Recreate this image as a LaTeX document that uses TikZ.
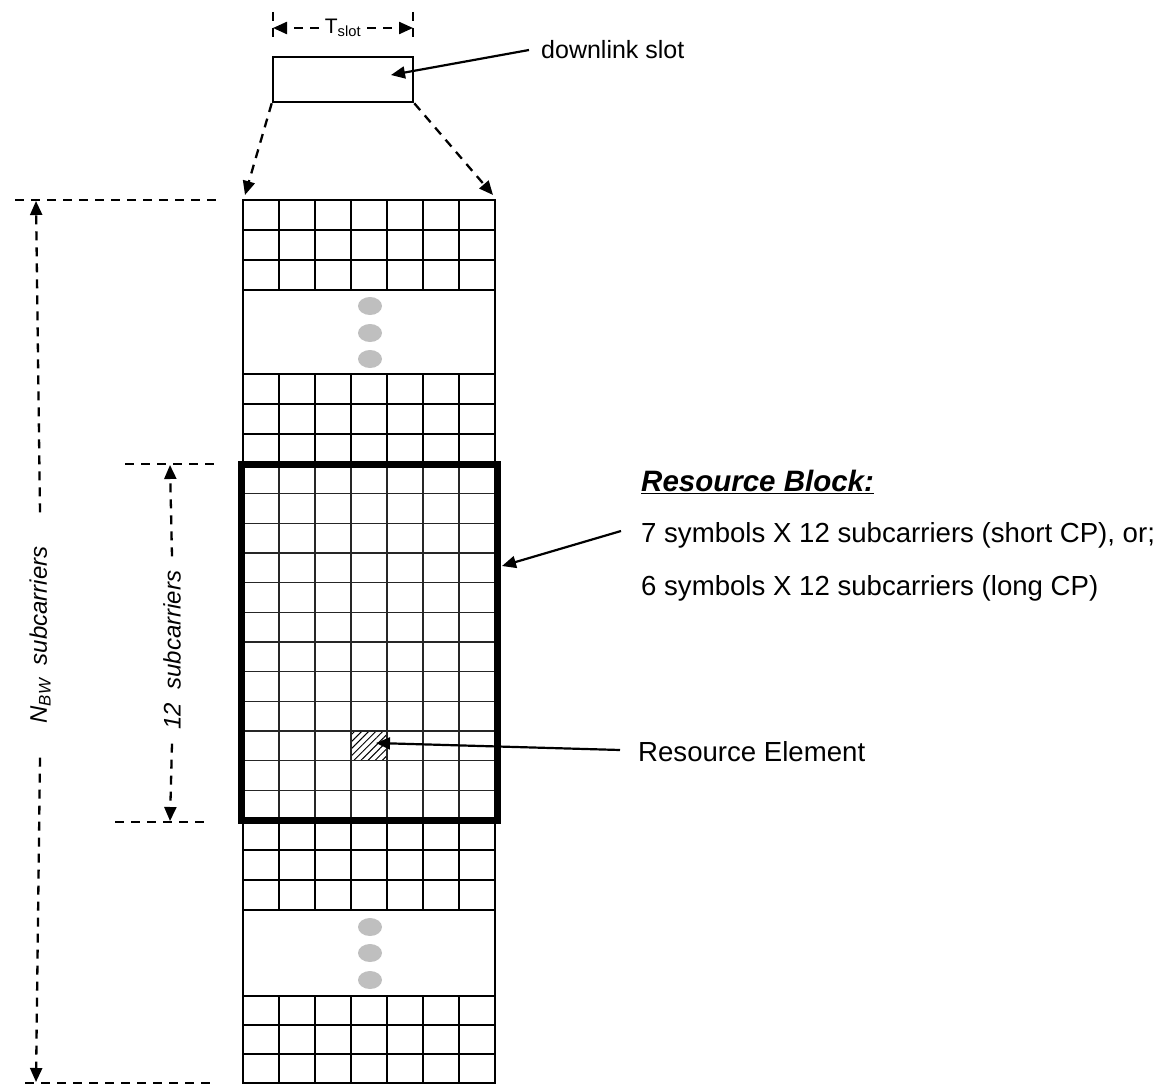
\documentclass[tikz,border=0pt]{standalone}
\usepackage{fontspec}
\setmainfont{Liberation Sans}
\usetikzlibrary{arrows.meta,patterns.meta,positioning}

\tikzset{
  cellgrid/.style={line width=2.8pt},
  rbgrid/.style={line width=1.6pt, black!85},
  rbframe/.style={line width=7pt},
  dimline/.style={line width=2.3pt, dash pattern=on 9pt off 7pt},
  tip/.style={-{Triangle[length=14pt,width=12pt]}},
  dotmark/.style={fill=black!25, draw=none},
  lbl/.style={font=\fontsize{27.6}{33}\selectfont, anchor=west, inner sep=0pt}
}

\begin{document}
\begin{tikzpicture}[x=1pt,y=-1pt]
\useasboundingbox (0,0) rectangle (1167,1086);

% downlink slot and its duration
\node[draw, line width=2.6pt, minimum width=140pt, minimum height=45pt, inner sep=0pt] (slot) at (343,79.5) {};
\node[font=\fontsize{21}{25}\selectfont, inner xsep=6pt, inner ysep=0pt] (tslot) at (343,28) {T\textsubscript{slot}};
\coordinate (tsl) at (273,28);
\coordinate (tsr) at (413,28);
\draw[dimline] (273,12) -- (273,44);
\draw[dimline] (413,12) -- (413,44);
\draw[dimline,tip] (tslot.west) -- (tsl);
\draw[dimline,tip] (tslot.east) -- (tsr);

\node[lbl, font=\fontsize{25}{30}\selectfont] (dlslot) at (541,50) {downlink slot};
\coordinate (slotin) at (391,75);
\draw[line width=2.2pt,tip] ([xshift=-12pt]dlslot.west) -- (slotin);

% zoom into the slot
\coordinate (gridtl) at (245,195);
\coordinate (gridtr) at (493,195);
\draw[dimline,tip] (slot.south west) -- (gridtl);
\draw[dimline,tip] (slot.south east) -- (gridtr);

% grid bands
\draw[cellgrid] (243,200) rectangle (495,1083);
\foreach \ya/\yb in {200/290,374/464,820/910,996/1083} {
  \draw[cellgrid] (243,\ya) -- (495,\ya) (243,\yb) -- (495,\yb);
  \foreach \r in {1,2}
    \draw[cellgrid] (243,{\ya+(\yb-\ya)*\r/3}) -- (495,{\ya+(\yb-\ya)*\r/3});
  \foreach \c in {1,...,6}
    \draw[cellgrid] ({243+36*\c},\ya) -- ({243+36*\c},\yb);
}

% dots
\foreach \y in {306,333,359,927,953,980}
  \fill[dotmark] (370,\y) ellipse (12pt and 9pt);

% resource block
\fill[pattern={Lines[angle=45,distance=5pt,line width=1pt]}] (351,731) rectangle (387,760.7);
\foreach \c in {1,...,6}
  \draw[rbgrid] ({243+36*\c},464) -- ({243+36*\c},820);
\foreach \r in {1,...,11}
  \draw[rbgrid] (241,{464+29.667*\r}) -- (497,{464+29.667*\r});
\draw[rbframe] (241,464) rectangle (497,820);

% N_BW dimension
\draw[dimline] (15,200) -- (222,200);
\draw[dimline] (25,1083) -- (215,1083);
\node[rotate=90, font=\fontsize{24}{29}\selectfont\itshape, inner xsep=34pt, inner ysep=0pt] (nbw) at (40,635) {N\textsubscript{BW}\ \ subcarriers};
\coordinate (nbwtop) at (36,201);
\coordinate (nbwbot) at (36,1082);
\draw[dimline,tip] (nbw.east) -- (nbwtop);
\draw[dimline,tip] (nbw.west) -- (nbwbot);

% 12 subcarriers dimension
\draw[dimline] (125,464) -- (220,464);
\draw[dimline] (115,822) -- (207,822);
\node[rotate=90, font=\fontsize{24}{29}\selectfont\itshape, inner xsep=14pt, inner ysep=0pt] (twelve) at (172,650) {12\ \ subcarriers};
\coordinate (rbtop) at (170,465);
\coordinate (rbbot) at (170,821);
\draw[dimline,tip] (twelve.east) -- (rbtop);
\draw[dimline,tip] (twelve.west) -- (rbbot);

% labels on the right
\node[lbl, font=\fontsize{29.5}{35}\selectfont\bfseries\itshape] (rbhead) at (641,482) {\underline{Resource Block:}};
\node[lbl] (rbl1) at (641,535) {7 symbols X 12 subcarriers (short CP), or;};
\node[lbl] (rbl2) at (641,588) {6 symbols X 12 subcarriers (long CP)};
\coordinate (rbedge) at (502,566);
\draw[line width=2.2pt,tip] ([xshift=-20pt,yshift=4pt]rbl1.west) -- (rbedge);

\node[lbl] (relem) at (638,752) {Resource Element};
\coordinate (recell) at (376,743);
\draw[line width=2.2pt,tip] ([xshift=-18pt,yshift=2pt]relem.west) -- (recell);
\end{tikzpicture}
\end{document}
